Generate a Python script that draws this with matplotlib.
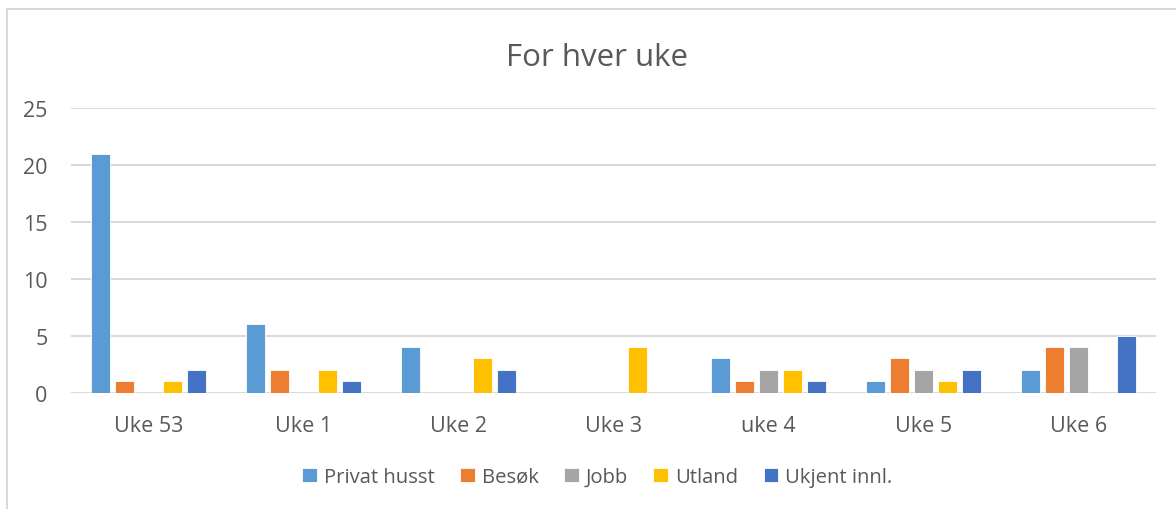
"""
grouped bar chart - for hver uke
"""
import numpy as np
import matplotlib
matplotlib.use("Agg")
import matplotlib.pyplot as plt
from matplotlib.patches import Rectangle

plt.rcParams["font.family"] = ["Open Sans", "DejaVu Sans"]

# data
weeks = ["Uke 53", "Uke 1", "Uke 2", "Uke 3", "uke 4", "Uke 5", "Uke 6"]
series = ["Privat husst", "Besøk", "Jobb", "Utland", "Ukjent innl."]
privat = [21, 6, 4, 0, 3, 1, 2]
besok = [1, 2, 0, 0, 1, 3, 4]
jobb = [0, 0, 0, 0, 2, 2, 4]
utland = [1, 2, 3, 4, 2, 1, 0]
ukjent = [2, 1, 2, 0, 1, 2, 5]
colors = ["#5B9BD5", "#ED7D31", "#A5A5A5", "#FFC000", "#4472C4"]

fig = plt.figure(figsize=(11.76, 5.1), dpi=100)
ax = fig.add_axes([0.0604, 0.2284, 0.9226, 0.5578])

x = np.arange(len(weeks))
pitch = 0.155
width = 0.123
for i, (vals, name) in enumerate(zip([privat, besok, jobb, utland, ukjent], series)):
    ax.bar(x + (i - 2) * pitch, vals, width, color=colors[i], label=name,
           edgecolor="white", linewidth=0.6, zorder=3)

ax.set_xlim(-0.5, len(weeks) - 0.5)
ax.set_ylim(0, 25)
ax.set_yticks(range(0, 26, 5))
ax.set_xticks(x)
ax.set_xticklabels(weeks)
ax.yaxis.grid(True, color="#D9D9D9", linewidth=1.4, zorder=0)
for s in ax.spines.values():
    s.set_visible(False)
ax.tick_params(length=0, labelsize=15.5, colors="#595959")
ax.tick_params(axis="x", pad=16)
ax.tick_params(axis="y", pad=17)

fig.text(0.508, 0.887, "For hver uke", ha="center", va="center", fontsize=22.5, color="#595959")

h, l = ax.get_legend_handles_labels()
fig.legend(h, l, loc="center", bbox_to_anchor=(0.508, 0.063), ncol=5, frameon=False,
           fontsize=14.6, handlelength=0.72, handleheight=0.72, handletextpad=0.35,
           columnspacing=1.25, labelcolor="#595959")

# chart border
fig.patches.append(Rectangle((7 / 1176, -0.1), 1.2, 1 - 10 / 510 + 0.1,
                             transform=fig.transFigure, fill=False,
                             edgecolor="#D9D9D9", linewidth=1.5))

fig.savefig("out.png", dpi=100)
